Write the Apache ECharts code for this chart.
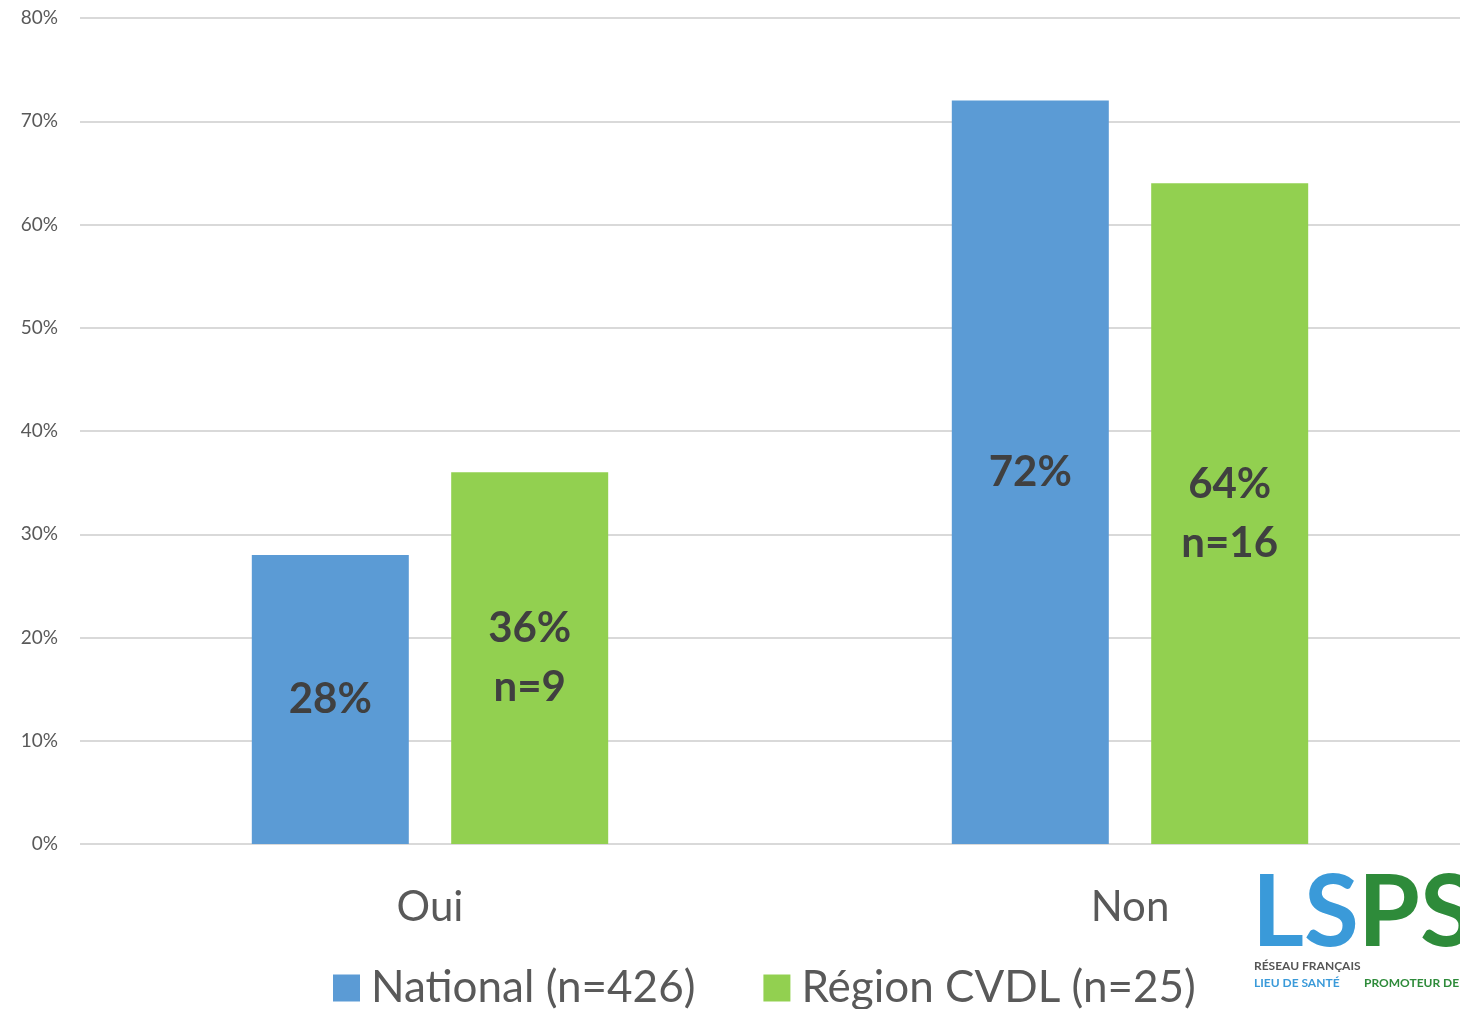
<!DOCTYPE html>
<html><head><meta charset="utf-8">
<script src="https://cdn.jsdelivr.net/npm/echarts@6/dist/echarts.min.js"></script>
<style>html,body{margin:0;padding:0;background:#fff}#c{width:1460px;height:1009px}</style>
</head><body><div id="c"></div>
<script>
const categories = ['Oui', 'Non'];
const seriesNames = ['National (n=426)', 'Région CVDL (n=25)'];
const nationalValues = [28, 72];
const regionValues = [36, 64];
const regionCounts = [9, 16];
const yTicks = [0, 10, 20, 30, 40, 50, 60, 70, 80];

const FONT = 'Lato, "Open Sans", sans-serif';
const chart = echarts.init(document.getElementById('c'));
chart.setOption({
  backgroundColor: '#fff',
  animation: false,
  textStyle: { fontFamily: FONT },
  grid: { left: 80, width: 1400, top: 18, bottom: 165, containLabel: false, outerBoundsMode: 'none' },
  legend: {
    data: seriesNames,
    bottom: -6,
    left: 328,
    itemWidth: 27, itemHeight: 27, itemGap: 68,
    icon: 'rect',
    textStyle: { fontSize: 44, color: '#595959', fontFamily: FONT, padding: [0, 0, 0, 6] }
  },
  xAxis: {
    type: 'category',
    data: categories,
    axisLine: { show: false },
    axisTick: { show: false },
    axisLabel: { fontSize: 42, color: '#595959', margin: 42, fontFamily: FONT }
  },
  yAxis: {
    type: 'value',
    min: yTicks[0], max: yTicks[yTicks.length - 1], interval: 10,
    axisLine: { show: false }, axisTick: { show: false },
    axisLabel: { formatter: '{value}%', fontSize: 19, color: '#595959', margin: 22, fontFamily: FONT },
    splitLine: { lineStyle: { color: '#d9d9d9', width: 2 } }
  },
  series: [
    {
      name: seriesNames[0], type: 'bar', data: nationalValues,
      barWidth: 157, barGap: '27%',
      itemStyle: { color: '#5B9BD5' },
      label: { show: true, position: 'inside', formatter: p => p.value + '%',
        fontSize: 42, fontWeight: 'bold', color: '#404040', fontFamily: FONT }
    },
    {
      name: seriesNames[1], type: 'bar', data: regionValues,
      barWidth: 157,
      itemStyle: { color: '#92D050' },
      label: { show: true, position: 'inside',
        formatter: p => p.value + '%\nn=' + regionCounts[p.dataIndex],
        fontSize: 42, lineHeight: 59, fontWeight: 'bold', color: '#404040', fontFamily: FONT }
    }
  ],
  graphic: [
    { type: 'text', left: 1252, top: 864, style: { text: 'LS', fontSize: 100, fontWeight: 'bold', fill: '#3A9AD9', fontFamily: FONT } },
    { type: 'text', left: 1358, top: 864, style: { text: 'PS', fontSize: 100, fontWeight: 'bold', fill: '#2E8B3A', fontFamily: FONT } },
    { type: 'text', left: 1254, top: 960, style: { text: 'RÉSEAU FRANÇAIS', fontSize: 12, fontWeight: 'bold', fill: '#555', fontFamily: FONT } },
    { type: 'text', left: 1254, top: 977, style: { text: 'LIEU DE SANTÉ', fontSize: 12, fontWeight: 'bold', fill: '#3A9AD9', fontFamily: FONT } },
    { type: 'text', left: 1364, top: 977, style: { text: 'PROMOTEUR DE', fontSize: 12, fontWeight: 'bold', fill: '#2E8B3A', fontFamily: FONT } }
  ]
});
</script></body></html>
